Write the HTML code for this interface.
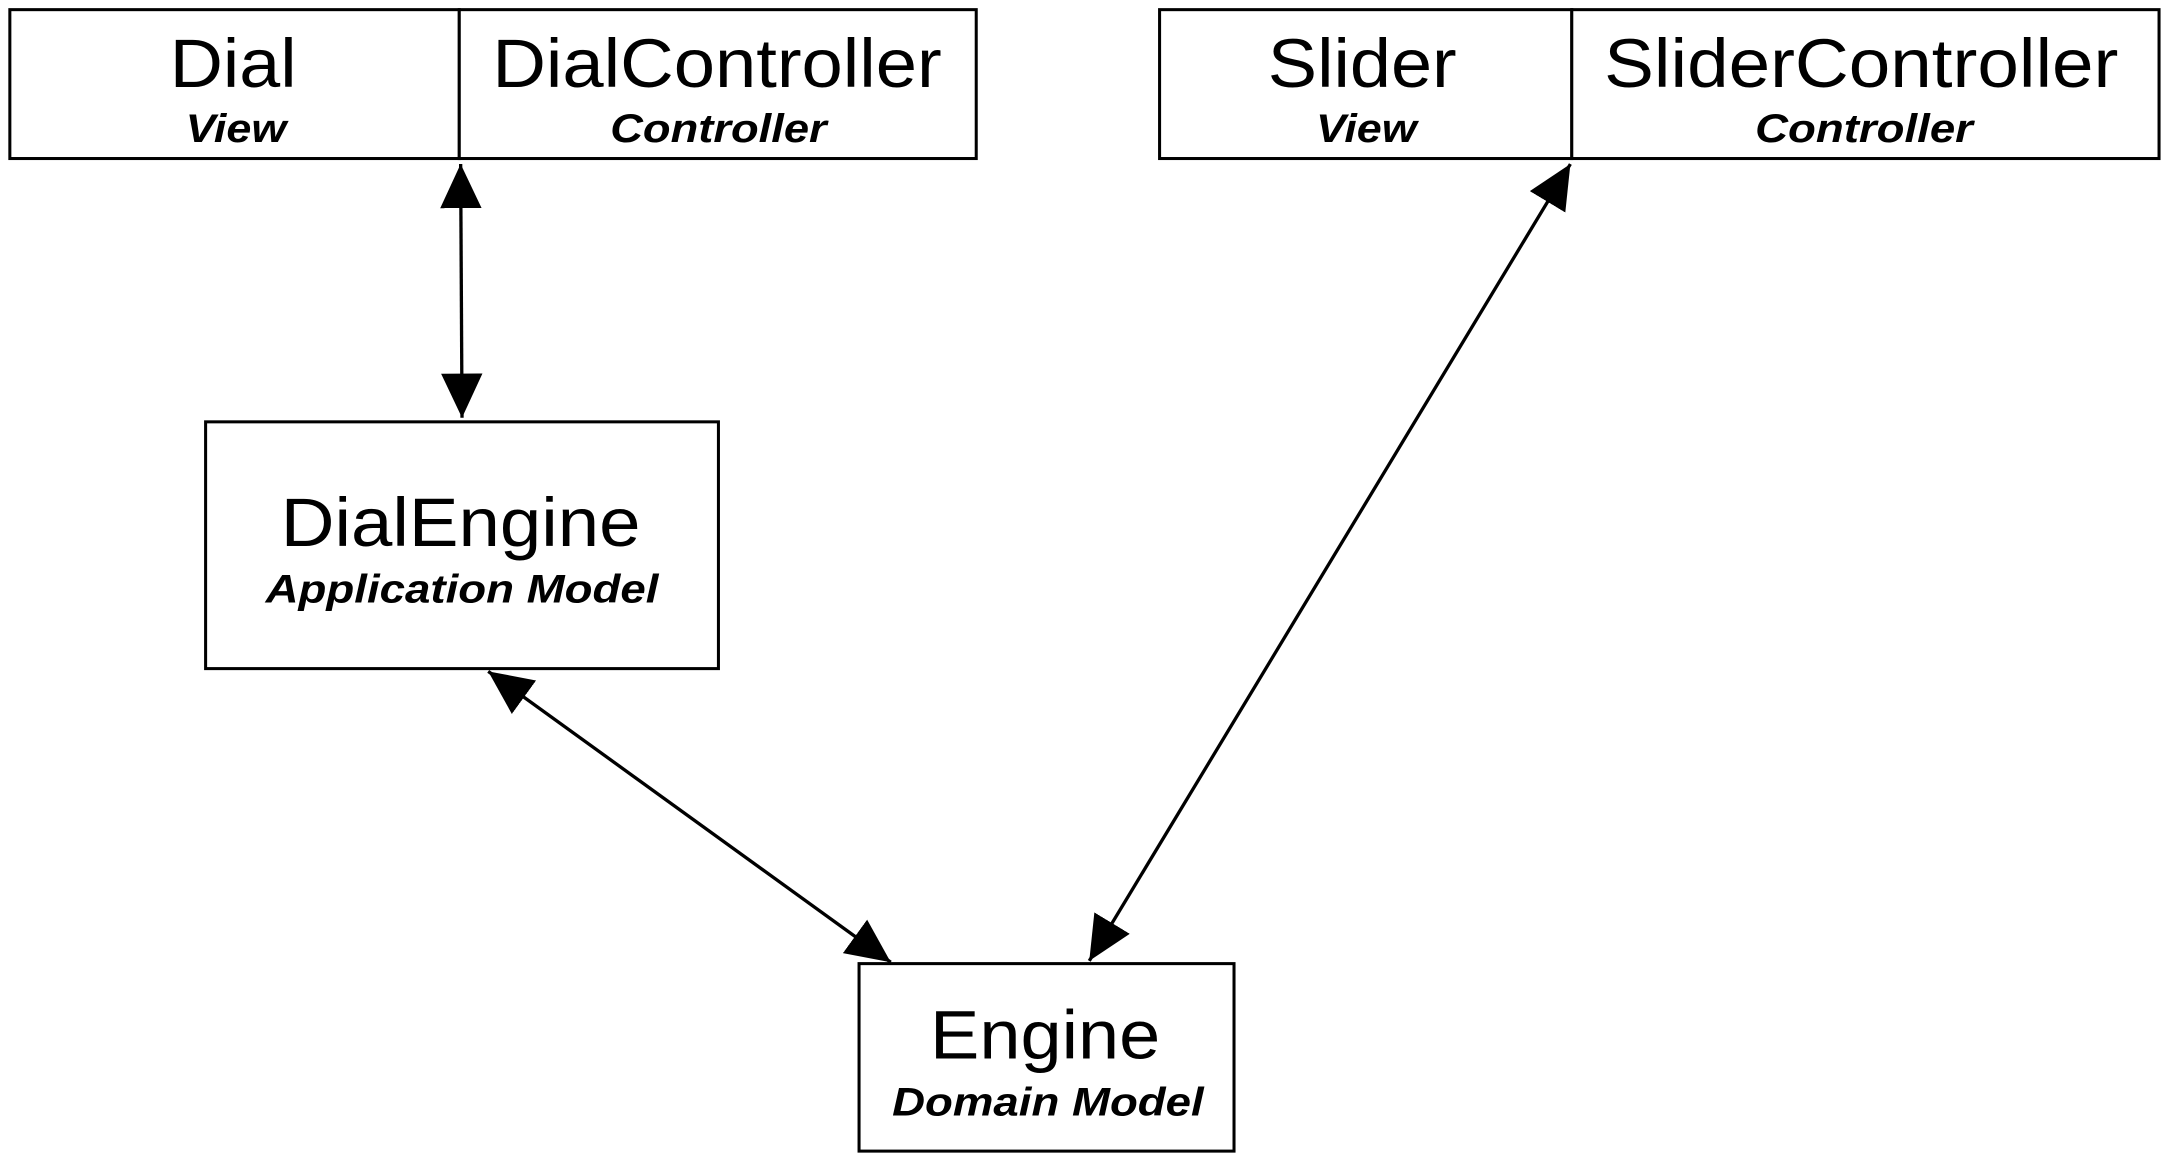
<!DOCTYPE html>
<html><head><meta charset="utf-8"><style>html,body{margin:0;padding:0;background:#fff}svg{display:block}</style></head>
<body>
<svg width="2162" height="1158" viewBox="0 0 1568 840" xmlns="http://www.w3.org/2000/svg" font-family="'Liberation Sans', sans-serif">
<defs>
<marker id="a" markerUnits="userSpaceOnUse" markerWidth="34" markerHeight="32" refX="32" refY="15" orient="auto-start-reverse" viewBox="0 0 34 32">
<path d="M0,0 L32,15 L0,30 Z" fill="#000"/>
</marker>
</defs>
<g fill="#fff" stroke="#000" stroke-width="2.2">
<rect x="7" y="7" width="326" height="108"/>
<rect x="333" y="7" width="375" height="108"/>
<rect x="841" y="7" width="299" height="108"/>
<rect x="1140" y="7" width="426" height="108"/>
<rect x="149" y="306" width="372" height="179"/>
<rect x="623" y="699" width="272" height="136"/>
</g>
<g stroke="#000" stroke-width="2.4" fill="none">
<line x1="334" y1="119" x2="335" y2="303" marker-start="url(#a)" marker-end="url(#a)"/>
<line x1="1139" y1="119" x2="790" y2="697" marker-start="url(#a)" marker-end="url(#a)"/>
<line x1="354" y1="487" x2="646" y2="698" marker-start="url(#a)" marker-end="url(#a)"/>
</g>
<g text-anchor="middle" fill="#000" lengthAdjust="spacingAndGlyphs">
<text x="169" y="63" font-size="50" textLength="92" lengthAdjust="spacingAndGlyphs">Dial</text>
<text x="171" y="103" font-size="29" font-weight="bold" font-style="italic" textLength="73" lengthAdjust="spacingAndGlyphs">View</text>
<text x="520" y="63" font-size="50" textLength="326" lengthAdjust="spacingAndGlyphs">DialController</text>
<text x="521" y="103" font-size="29" font-weight="bold" font-style="italic" textLength="157" lengthAdjust="spacingAndGlyphs">Controller</text>
<text x="988" y="63" font-size="50" textLength="137" lengthAdjust="spacingAndGlyphs">Slider</text>
<text x="991" y="103" font-size="29" font-weight="bold" font-style="italic" textLength="73" lengthAdjust="spacingAndGlyphs">View</text>
<text x="1350" y="63" font-size="50" textLength="373" lengthAdjust="spacingAndGlyphs">SliderController</text>
<text x="1352" y="103" font-size="29" font-weight="bold" font-style="italic" textLength="158" lengthAdjust="spacingAndGlyphs">Controller</text>
<text x="334" y="396" font-size="50" textLength="261" lengthAdjust="spacingAndGlyphs">DialEngine</text>
<text x="335" y="437" font-size="29" font-weight="bold" font-style="italic" textLength="285" lengthAdjust="spacingAndGlyphs">Application Model</text>
<text x="758" y="768" font-size="50" textLength="167" lengthAdjust="spacingAndGlyphs">Engine</text>
<text x="760" y="809" font-size="29" font-weight="bold" font-style="italic" textLength="226" lengthAdjust="spacingAndGlyphs">Domain Model</text>
</g>
</svg>
</body></html>
